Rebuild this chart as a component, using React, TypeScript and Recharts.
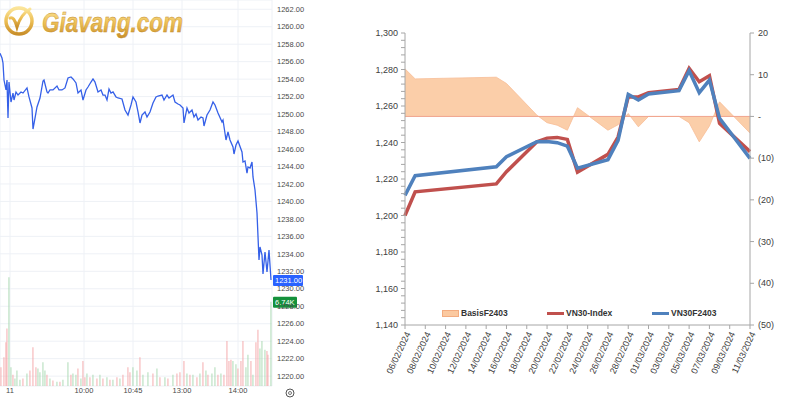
import React from "react";
import {
  ComposedChart,
  Line,
  Bar,
  Area,
  XAxis,
  YAxis,
  CartesianGrid,
  ReferenceLine,
  Cell,
  Legend,
} from "recharts";

// ---------- left: intraday VN30F (bar index along the session) ----------
const priceT = [0,2,3,4,6,7,8,9,11,13,14,16,18,21,23,27,29,32,33,35,37,40,43,44,47,48,50,53,57,59,62,65,68,71,73,76,78,81,83,86,88,91,93,95,98,101,103,105,107,109,111,113,116,118,122,125,128,131,133,136,138,140,142,145,147,150,153,156,158,162,164,167,169,173,175,178,180,183,184,187,189,192,194,196,198,201,203,204,207,210,213,215,218,222,223,226,228,230,233,234,236,238,242,243,245,247,248,250,252,253,255,257,259,260,262,263,265,267,269,271];
const priceV = [1256.96,1256.42,1255.85,1253.9,1252.76,1253.9,1249.55,1253.67,1251.38,1252.41,1251.61,1252.53,1252.18,1252.53,1252.41,1252.99,1251.96,1250.7,1248.29,1249.55,1250.81,1251.84,1253.79,1253.9,1252.53,1252.41,1252.76,1252.76,1253.21,1252.76,1252.76,1252.99,1254.13,1254.25,1254.02,1253.56,1252.41,1252.76,1251.61,1252.76,1253.1,1253.67,1254.02,1253.67,1252.53,1252.76,1252.18,1252.18,1251.61,1252.87,1252.41,1252.53,1251.96,1251.84,1251.73,1250.47,1249.89,1251.04,1251.96,1251.38,1250.24,1248.98,1249.89,1250.24,1249.67,1250.24,1251.27,1251.96,1252.07,1252.18,1251.61,1252.18,1251.84,1252.18,1251.38,1251.15,1251.04,1250.7,1248.98,1250.7,1250.12,1250.47,1249.67,1250.01,1249.32,1249.67,1249.55,1248.64,1249.89,1250.47,1251.38,1251.04,1250.12,1249.09,1249.32,1247.03,1247.95,1247.03,1246.23,1245.43,1246.46,1246.92,1245.66,1244.51,1244.63,1243.25,1243.94,1243.83,1244.51,1242.8,1241.31,1238.68,1233.3,1234.78,1233.87,1231.69,1234.21,1231.92,1234.44,1231.01];

const volT = [1,4,6,7,9,11,13,15,17,20,23,27,30,33,36,38,40,43,45,47,50,53,57,60,63,68,71,73,76,78,81,83,85,87,90,93,97,100,103,107,110,113,117,120,123,128,130,133,137,140,143,148,153,157,160,165,168,173,177,180,184,187,190,193,197,200,203,206,208,212,215,218,221,224,227,229,231,233,236,238,241,243,246,248,251,253,256,258,260,262,265,267,268,271];
const volK = [1.5,2.3,3.5,4.6,8.7,1.5,0.9,0.6,1.25,0.5,0.6,1.0,1.25,3.1,1.5,1.4,1.1,1.9,1.25,0.9,0.6,0.45,0.35,0.35,0.5,1.9,0.9,1.0,0.9,1.4,0.6,2.0,0.7,1.0,0.7,0.9,0.6,0.9,0.6,0.7,0.5,0.5,0.7,0.6,0.9,1.5,1.1,1.5,1.25,2.3,0.9,1.1,1.0,1.4,0.7,0.7,0.6,0.9,1.0,1.1,2.0,1.0,0.9,0.9,0.7,1.0,1.9,1.25,0.9,1.0,1.5,0.9,1.0,0.9,3.6,2.0,2.1,2.0,1.75,1.4,2.0,3.6,1.5,2.5,2.0,0.9,3.5,4.5,3.0,3.6,2.9,2.8,2.5,6.74];
const volUp = [0,0,0,0,1,1,0,1,1,1,0,1,0,0,0,1,1,1,1,0,1,0,1,0,1,1,0,1,1,0,1,0,0,1,0,1,0,1,0,1,0,1,0,1,0,0,0,1,1,0,1,1,0,1,0,1,0,1,0,0,0,1,0,1,0,1,0,1,0,1,1,0,1,0,0,0,0,1,1,0,0,0,1,1,0,1,0,0,1,1,1,0,0,1];

const timeTicks = [10, 84, 133, 182, 238];
const timeLabels = ["11", "10:00", "10:45", "13:00", "14:00"];
const priceTicks = [1220,1222,1224,1226,1228,1230,1232,1234,1236,1238,1240,1242,1244,1246,1248,1250,1252,1254,1256,1258,1260,1262];
const lastPrice = 1231.0;
const lastVol = 6.74;

// ---------- right: VN30 vs VN30F2403 (days since 06/02/2024) ----------
const days = [0,1,9,10,13,14,15,16,17,20,21,22,23,24,27,28,29,30,31,34];
const vn30 = [1200,1213,1217.3,1224,1240.4,1242.4,1242.8,1241.7,1223.8,1233.5,1243,1265,1265,1267.3,1269,1280.6,1273.3,1276.6,1250.5,1235];
const vn30f = [1211,1221.8,1226.7,1232.2,1240.4,1240.6,1239.9,1238,1225.9,1230.6,1241.2,1266.4,1263.3,1266.6,1268.4,1279.3,1267.3,1274.2,1253.3,1231.3];
const basis = [11.4,9.0,9.4,7.9,0.3,-1.5,-2.1,-3.3,2.1,-3.3,-2.0,0.7,-2.5,0,0,-1.5,-6.1,-2.3,3.5,-4];

const dayTicks = [0,2,4,6,8,10,12,14,16,18,20,22,24,26,28,30,32,34];
const dayLabels = ["06/02/2024","08/02/2024","10/02/2024","12/02/2024","14/02/2024","16/02/2024","18/02/2024","20/02/2024","22/02/2024","24/02/2024","26/02/2024","28/02/2024","01/03/2024","03/03/2024","05/03/2024","07/03/2024","09/03/2024","11/03/2024"];
const rightTicks = [-50,-40,-30,-20,-10,0,10,20];

const leftTicks: number[] = [];
for (let v = 1140; v <= 1300; v += 4) leftTicks.push(v);

// merge price + volume by bar index
const intraMap = new Map<number, any>();
priceT.forEach((t, i) => intraMap.set(t, { ...(intraMap.get(t) || { t }), price: priceV[i] }));
volT.forEach((t, i) => intraMap.set(t, { ...(intraMap.get(t) || { t }), vol: volK[i], up: volUp[i] }));
const intraData = [...intraMap.values()].sort((a, b) => a.t - b.t);

const futData = days.map((d, i) => ({ day: d, vn30: vn30[i], vn30f: vn30f[i], basis: basis[i] }));

const Badge = ({ viewBox, text, fill, w }: any) => {
  if (!viewBox) return null;
  const x = viewBox.x + viewBox.width;
  const y = viewBox.y;
  return (
    <g>
      <rect x={x + 1} y={y - 5} width={w} height={11} fill={fill} rx={1} />
      <text x={x + 3} y={y + 3} fontSize={7.5} fill="#fff" fontFamily="Liberation Sans">
        {text}
      </text>
    </g>
  );
};

const rightFmt = (v: number) => (v === 0 ? "-" : v < 0 ? `(${-v})` : `${v}`);

const legendItems = [
  { label: "BasisF2403", kind: "area", color: "#fbc9a0", left: 82 },
  { label: "VN30-Index", kind: "line", color: "#c0504d", left: 187 },
  { label: "VN30F2403", kind: "line", color: "#4f81bd", left: 292 },
];

const renderLegend = () => (
  <div style={{ position: "relative", width: 440, height: 14 }}>
    {legendItems.map((it) => (
      <div
        key={it.label}
        style={{ position: "absolute", left: it.left, top: 0, display: "flex", alignItems: "center", height: 14 }}
      >
        {it.kind === "area" ? (
          <div style={{ width: 15, height: 5, background: it.color, border: "1px solid #f3ac80" }} />
        ) : (
          <div style={{ width: 17, height: 3, background: it.color }} />
        )}
        <span style={{ fontSize: 8.5, fontWeight: "bold", color: "#333", marginLeft: 2, fontFamily: "Liberation Sans" }}>
          {it.label}
        </span>
      </div>
    ))}
  </div>
);

export default function App() {
  return (
    <div
      style={{
        position: "absolute",
        left: 0,
        top: 0,
        width: 800,
        height: 400,
        background: "#fff",
        overflow: "hidden",
        fontFamily: "Liberation Sans",
      }}
    >
      {/* left intraday chart */}
      <div style={{ position: "absolute", left: 0, top: 0, width: 312, height: 400, overflow: "hidden" }}>
        <ComposedChart width={312} height={400} data={intraData} margin={{ top: 0, right: 0, bottom: 0, left: 0 }}>
          <CartesianGrid yAxisId="price" stroke="#eef1f6" strokeWidth={1} />
          <XAxis
            dataKey="t"
            type="number"
            domain={[0, 272]}
            ticks={timeTicks}
            tickFormatter={(v: number) => timeLabels[timeTicks.indexOf(v)] ?? ""}
            height={14}
            tickSize={2}
            tickMargin={0}
            tickLine={false}
            axisLine={false}
            tick={{ fontSize: 7.5, fill: "#4a4a4a" }}
            interval={0}
          />
          <YAxis
            yAxisId="price"
            orientation="right"
            domain={[1218.87, 1263.06]}
            ticks={priceTicks}
            interval={0}
            tickFormatter={(v: number) => v.toFixed(2)}
            width={40}
            tickSize={3}
            tickMargin={2}
            tickLine={false}
            axisLine={false}
            tick={{ fontSize: 7.5, fill: "#4a4a4a", textAnchor: "start" }}
            allowDataOverflow
          />
          <YAxis yAxisId="vol" hide domain={[0, 30.9]} allowDataOverflow />
          <Bar yAxisId="vol" dataKey="vol" barSize={2} isAnimationActive={false}>
            {intraData.map((d, i) => (
              <Cell key={i} fill={d.up ? "#a6d7ae" : "#f4a3a5"} />
            ))}
          </Bar>
          <Line
            yAxisId="price"
            dataKey="price"
            stroke="#3560e8"
            strokeWidth={1.3}
            dot={false}
            connectNulls
            isAnimationActive={false}
          />
          <ReferenceLine
            yAxisId="price"
            y={lastPrice}
            stroke="none"
            ifOverflow="visible"
            label={(p: any) => <Badge viewBox={p.viewBox} text="1231.00" fill="#2962ff" w={30} />}
          />
          <ReferenceLine
            yAxisId="vol"
            y={lastVol}
            stroke="none"
            ifOverflow="visible"
            label={(p: any) => <Badge viewBox={p.viewBox} text="6.74K" fill="#14913c" w={24} />}
          />
        </ComposedChart>
      </div>

      {/* logo */}
      <svg width={230} height={46} style={{ position: "absolute", left: 0, top: 0 }}>
        <defs>
          <linearGradient id="gold" x1="0" y1="0" x2="0" y2="1">
            <stop offset="0" stopColor="#fbe59a" />
            <stop offset="0.5" stopColor="#edbf55" />
            <stop offset="1" stopColor="#c98f2a" />
          </linearGradient>
        </defs>
        <circle cx={19} cy={21} r={13} fill="none" stroke="url(#gold)" strokeWidth={3.5} />
        <path d="M10 18 Q14 16 17 27 Q21 14 30 9" stroke="url(#gold)" strokeWidth={3} fill="none" strokeLinecap="round" />
        <text
          x={42}
          y={32}
          fontSize={27}
          fontWeight="bold"
          fontStyle="italic"
          fontFamily="Liberation Sans"
          textLength={141}
          lengthAdjust="spacingAndGlyphs"
          fill="url(#gold)"
          stroke="#c28b2c"
          strokeWidth={0.4}
        >
          Giavang.com
        </text>
      </svg>

      {/* settings icon */}
      <svg width={12} height={12} style={{ position: "absolute", left: 284, top: 387 }}>
        <circle cx={6} cy={6} r={4} fill="none" stroke="#555" strokeWidth={1} />
        <circle cx={6} cy={6} r={1.5} fill="none" stroke="#555" strokeWidth={0.8} />
      </svg>

      {/* right futures chart */}
      <div style={{ position: "absolute", left: 360, top: 0, width: 440, height: 400 }}>
        <ComposedChart width={440} height={400} data={futData} margin={{ top: 33, right: 10, bottom: 0, left: 0 }}>
          <XAxis
            dataKey="day"
            type="number"
            domain={[0, 34]}
            ticks={dayTicks}
            interval={0}
            tickFormatter={(v: number) => dayLabels[dayTicks.indexOf(v)] ?? ""}
            height={75}
            tickSize={4}
            tickMargin={2}
            angle={-65}
            stroke="#a6a6a6"
            tick={{ fontSize: 9, fill: "#404040", textAnchor: "end" }}
          />
          <YAxis
            yAxisId="left"
            domain={[1140, 1300]}
            ticks={leftTicks}
            interval={0}
            tickFormatter={(v: number) => (v % 20 === 0 ? v.toLocaleString("en-US") : "")}
            width={45}
            tickSize={4}
            tickMargin={3}
            stroke="#a6a6a6"
            tick={{ fontSize: 9, fill: "#404040" }}
          />
          <YAxis
            yAxisId="right"
            orientation="right"
            domain={[-50, 20]}
            ticks={rightTicks}
            interval={0}
            tickFormatter={rightFmt}
            width={40}
            tickSize={4}
            tickMargin={4}
            stroke="#a6a6a6"
            tick={{ fontSize: 9, fill: "#404040" }}
          />
          <Area
            yAxisId="right"
            dataKey="basis"
            type="linear"
            baseValue={0}
            fill="#fbc9a0"
            fillOpacity={0.9}
            stroke="#f8bd96"
            strokeWidth={0.8}
            isAnimationActive={false}
          />
          <ReferenceLine yAxisId="right" y={0} stroke="#f0a48e" strokeWidth={1} />
          <Line
            yAxisId="left"
            dataKey="vn30"
            stroke="#c0504d"
            strokeWidth={3.5}
            dot={false}
            isAnimationActive={false}
          />
          <Line
            yAxisId="left"
            dataKey="vn30f"
            stroke="#4f81bd"
            strokeWidth={3.5}
            dot={false}
            isAnimationActive={false}
          />
          <Legend
            layout="horizontal"
            verticalAlign="middle"
            align="center"
            content={renderLegend}
            wrapperStyle={{ position: "absolute", top: 306, left: 0, width: 440, height: 14 }}
          />
        </ComposedChart>
      </div>
    </div>
  );
}
